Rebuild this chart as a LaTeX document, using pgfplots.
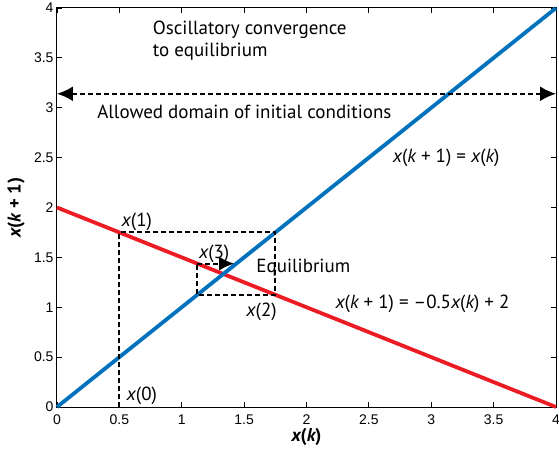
\documentclass[border=0pt]{standalone}
\usepackage{pgfplots}
\pgfplotsset{compat=1.18}
\usepackage{fontspec}
\setmainfont{Liberation Sans}
\newfontfamily\annot{PT Sans}
\usetikzlibrary{arrows.meta}
\definecolor{lblue}{RGB}{0,114,189}
\definecolor{lred}{RGB}{237,28,36}
\newcommand\af{\annot\fontsize{19}{22}\selectfont}
\begin{document}
\begin{tikzpicture}
\begin{axis}[
  name=ax,
  scale only axis, width=499pt, height=399pt,
  xmin=0, xmax=4, ymin=0, ymax=4,
  xtick={0,0.5,...,4}, ytick={0,0.5,...,4},
  xticklabels={0,0.5,1,1.5,2,2.5,3,3.5,4},
  yticklabels={0,0.5,1,1.5,2,2.5,3,3.5,4},
  tick align=inside, major tick length=5pt,
  tick style={black, line width=0.8pt},
  axis line style={line width=1pt},
  ticklabel style={font=\fontsize{14}{16}\selectfont},
  xticklabel style={yshift=-4pt},
  xlabel={\bfseries\itshape x\upshape(\itshape k\upshape)},
  ylabel={\bfseries\itshape x\upshape(\itshape k\upshape\ + 1)},
  label style={font=\annot\fontsize{18.5}{20}\selectfont},
  xlabel style={at={(rel axis cs:0.5,0)}, anchor=center, yshift=-30pt},
  ylabel style={at={(rel axis cs:0,0.5)}, anchor=center, yshift=41pt},
  clip=false,
]
\addplot[lred, line width=3.8pt] coordinates {(0,2) (4,0)};
\addplot[lblue, line width=3.8pt] coordinates {(0,0) (4,4)};
\addplot[black, line width=2pt, dash pattern=on 5pt off 3pt] coordinates {(0.5,0) (0.5,1.75) (1.75,1.75) (1.75,1.125) (1.125,1.125) (1.125,1.4375)};
\addplot[black, line width=2pt, dash pattern=on 5pt off 3pt, -{Latex[length=15pt,width=14pt]}] coordinates {(1.125,1.4375) (1.42,1.4375)};
\addplot[black, line width=2pt, dash pattern=on 5pt off 3pt, {Latex[length=16pt,width=15pt]}-{Latex[length=16pt,width=15pt]}] coordinates {(0,3.14) (4,3.14)};
\node[font=\af, anchor=west, align=left] at (axis cs:0.74,3.67) {Oscillatory convergence\\to equilibrium};
\node[font=\af, anchor=west] at (axis cs:0.295,2.96) {Allowed domain of initial conditions};
\node[font=\af] at (axis cs:3.12,2.50) {\itshape x\upshape(\itshape k\upshape\ + 1) = \itshape x\upshape(\itshape k\upshape)};
\node[font=\af] at (axis cs:2.93,1.03) {\itshape x\upshape(\itshape k\upshape\ + 1) = \char"2013 0.5\itshape x\upshape(\itshape k\upshape) + 2};
\node[font=\af] at (axis cs:0.64,1.86) {\itshape x\upshape(1)};
\node[font=\af] at (axis cs:1.26,1.54) {\itshape x\upshape(3)};
\node[font=\af] at (axis cs:1.64,0.95) {\itshape x\upshape(2)};
\node[font=\af] at (axis cs:0.68,0.11) {\itshape x\upshape(0)};
\node[font=\af, anchor=west] at (axis cs:1.57,1.40) {Equilibrium};
\end{axis}
\pgfresetboundingbox
\path[use as bounding box] ([shift={(-57pt,-43pt)}]ax.south west) rectangle ([shift={(3pt,8pt)}]ax.north east);
\end{tikzpicture}
\end{document}
